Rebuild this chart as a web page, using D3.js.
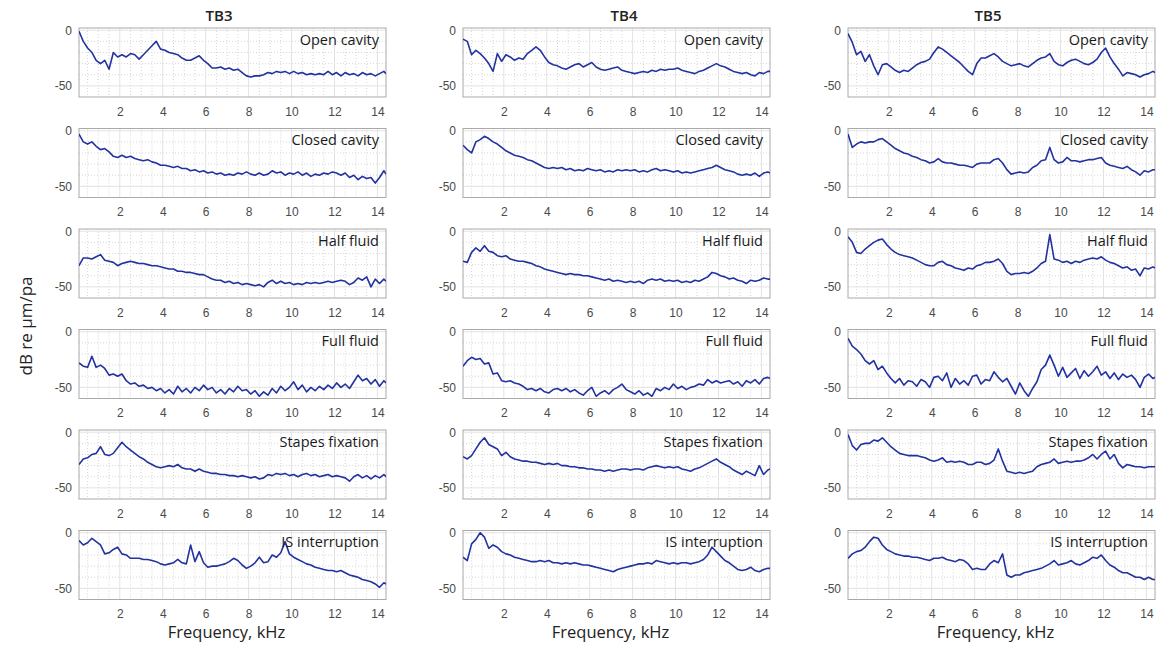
<!DOCTYPE html>
<html>
<head>
<meta charset="utf-8">
<script src="https://cdnjs.cloudflare.com/ajax/libs/d3/7.8.5/d3.min.js"></script>
<style>
  body { margin: 0; background: #fff; }
  svg { display: block; font-family: "Open Sans", "Noto Sans", sans-serif; }
  .tick text { fill: #4a4a4a; font-size: 12px; }
</style>
</head>
<body>
<svg id="chart" width="1160" height="646"></svg>
<script>
// frequency grid (kHz), shared by every panel
const freqs = [
  0.1, 0.3, 0.5, 0.7, 0.9, 1.1, 1.3, 1.5, 1.7, 1.9,
  2.1, 2.3, 2.5, 2.7, 2.9, 3.1, 3.3, 3.5, 3.7, 3.9,
  4.1, 4.3, 4.5, 4.7, 4.9, 5.1, 5.3, 5.5, 5.7, 5.9,
  6.1, 6.3, 6.5, 6.7, 6.9, 7.1, 7.3, 7.5, 7.7, 7.9,
  8.1, 8.3, 8.5, 8.7, 8.9, 9.1, 9.3, 9.5, 9.7, 9.9,
  10.1, 10.3, 10.5, 10.7, 10.9, 11.1, 11.3, 11.5, 11.7, 11.9,
  12.1, 12.3, 12.5, 12.7, 12.9, 13.1, 13.3, 13.5, 13.7, 13.9,
  14.1, 14.3, 14.4
];

const columns = ["TB3", "TB4", "TB5"];
const conditions = ["Open cavity", "Closed cavity", "Half fluid", "Full fluid", "Stapes fixation", "IS interruption"];
const xTicks = [2, 4, 6, 8, 10, 12, 14];
const yTicks = [0, -50];

// ---- TB3 ----
const tb3Open = [
  -1, -10, -16, -20, -27, -30, -27, -35, -20, -24,
  -22, -24, -21, -22, -26, -22, -18, -14, -10, -17,
  -18, -20, -21, -22, -25, -27, -27, -25, -23, -27,
  -30, -34, -34, -33, -35, -34, -36, -35, -38, -41,
  -42, -41, -41, -40, -38, -39, -37, -38, -37, -39,
  -37, -39, -38, -40, -39, -40, -39, -40, -37, -40,
  -38, -41, -38, -40, -39, -41, -38, -40, -39, -41,
  -39, -37, -39
];
const tb3Closed = [
  -3, -10, -12, -10, -14, -17, -16, -19, -23, -24,
  -22, -24, -23, -25, -26, -27, -26, -28, -29, -31,
  -31, -32, -33, -32, -34, -34, -36, -35, -37, -36,
  -38, -37, -39, -38, -40, -39, -40, -38, -39, -37,
  -39, -40, -38, -40, -39, -36, -38, -37, -40, -38,
  -39, -37, -40, -38, -41, -39, -40, -38, -39, -37,
  -38, -40, -38, -42, -40, -44, -41, -43, -42, -47,
  -42, -36, -39
];
const tb3Half = [
  -31, -24, -24, -25, -23, -21, -26, -27, -28, -31,
  -29, -28, -27, -28, -29, -29, -30, -31, -31, -32,
  -33, -34, -34, -36, -36, -37, -37, -38, -39, -39,
  -41, -43, -44, -44, -46, -45, -47, -46, -48, -47,
  -48, -49, -48, -50, -46, -44, -47, -45, -47, -46,
  -48, -47, -48, -46, -47, -46, -47, -46, -45, -46,
  -45, -44, -45, -48, -46, -42, -44, -41, -50, -43,
  -47, -43, -45
];
const tb3Full = [
  -28, -31, -32, -22, -32, -30, -33, -39, -38, -40,
  -38, -44, -47, -46, -49, -48, -51, -50, -53, -51,
  -55, -52, -56, -49, -54, -51, -55, -50, -53, -48,
  -52, -50, -55, -52, -56, -51, -54, -49, -53, -52,
  -56, -53, -58, -54, -57, -51, -55, -49, -53, -50,
  -45, -52, -48, -54, -50, -53, -49, -52, -48, -51,
  -46, -50, -47, -51, -45, -39, -44, -42, -47, -43,
  -49, -44, -46
];
const tb3Stapes = [
  -29, -24, -23, -20, -19, -13, -20, -21, -19, -14,
  -9, -13, -16, -19, -22, -24, -27, -29, -31, -32,
  -31, -30, -31, -29, -32, -33, -33, -35, -33, -35,
  -36, -37, -37, -38, -38, -39, -39, -40, -39, -40,
  -41, -40, -42, -41, -38, -39, -37, -38, -37, -39,
  -38, -40, -38, -37, -39, -38, -40, -39, -38, -40,
  -39, -40, -41, -44, -40, -38, -41, -39, -42, -39,
  -41, -38, -40
];
const tb3IS = [
  -7, -11, -9, -5, -8, -11, -19, -18, -15, -13,
  -19, -20, -23, -23, -23, -24, -24, -25, -26, -28,
  -29, -28, -27, -24, -27, -28, -11, -26, -17, -27,
  -31, -30, -30, -29, -28, -26, -23, -25, -29, -32,
  -30, -27, -22, -27, -26, -20, -22, -18, -8, -19,
  -22, -24, -26, -28, -29, -31, -32, -33, -34, -34,
  -35, -34, -36, -38, -39, -40, -42, -43, -44, -46,
  -49, -45, -46
];

// ---- TB4 ----
const tb4Open = [
  -8, -10, -22, -18, -21, -25, -30, -37, -21, -28,
  -22, -24, -27, -25, -26, -21, -18, -15, -18, -24,
  -29, -31, -32, -34, -35, -33, -31, -30, -33, -31,
  -29, -33, -35, -36, -35, -34, -33, -36, -37, -38,
  -39, -38, -37, -38, -36, -37, -35, -36, -35, -35,
  -34, -36, -37, -38, -39, -37, -36, -34, -32, -30,
  -32, -33, -35, -37, -38, -39, -38, -40, -41, -38,
  -39, -37, -37
];
const tb4Closed = [
  -13, -17, -20, -10, -8, -5, -7, -10, -12, -15,
  -18, -20, -22, -23, -24, -26, -27, -29, -31, -33,
  -34, -33, -34, -33, -35, -34, -36, -35, -36, -34,
  -35, -36, -35, -37, -36, -37, -35, -36, -35, -36,
  -35, -37, -36, -37, -35, -34, -36, -35, -36, -37,
  -36, -38, -37, -38, -37, -36, -35, -34, -33, -31,
  -33, -35, -36, -37, -39, -40, -39, -40, -38, -41,
  -38, -37, -38
];
const tb4Half = [
  -27, -28, -19, -15, -18, -13, -18, -19, -22, -23,
  -22, -25, -26, -27, -27, -28, -29, -31, -32, -34,
  -35, -36, -37, -38, -39, -38, -39, -39, -40, -40,
  -41, -42, -43, -44, -43, -45, -44, -45, -46, -45,
  -46, -45, -47, -44, -43, -44, -43, -45, -44, -45,
  -44, -46, -45, -46, -44, -45, -43, -41, -37, -38,
  -40, -41, -43, -42, -44, -45, -47, -44, -45, -44,
  -42, -43, -43
];
const tb4Full = [
  -31, -26, -23, -25, -24, -29, -28, -38, -37, -44,
  -45, -44, -46, -47, -49, -52, -51, -53, -51, -54,
  -55, -52, -51, -53, -51, -54, -52, -55, -57, -53,
  -50, -58, -55, -53, -56, -52, -50, -47, -52, -54,
  -56, -53, -57, -55, -58, -51, -53, -50, -52, -47,
  -51, -49, -52, -50, -49, -47, -48, -43, -46, -44,
  -46, -45, -44, -47, -45, -49, -44, -46, -43, -47,
  -42, -41, -42
];
const tb4Stapes = [
  -22, -24, -21, -15, -9, -5, -11, -13, -15, -21,
  -18, -22, -24, -25, -26, -26, -27, -27, -28, -29,
  -28, -29, -28, -30, -30, -31, -31, -32, -32, -33,
  -33, -34, -34, -35, -34, -35, -34, -33, -33, -34,
  -33, -33, -34, -32, -31, -30, -31, -32, -31, -32,
  -31, -33, -34, -35, -33, -32, -30, -28, -26, -24,
  -27, -29, -31, -34, -36, -38, -35, -37, -39, -30,
  -38, -34, -33
];
const tb4IS = [
  -22, -25, -10, -6, 0, -4, -14, -11, -13, -17,
  -19, -20, -22, -23, -24, -25, -26, -26, -25, -26,
  -25, -27, -27, -28, -27, -28, -27, -28, -29, -29,
  -30, -31, -32, -33, -34, -35, -33, -32, -31, -30,
  -29, -28, -28, -27, -28, -25, -26, -27, -28, -27,
  -28, -27, -27, -28, -27, -26, -24, -20, -13, -17,
  -21, -25, -27, -30, -33, -34, -33, -31, -34, -35,
  -33, -32, -32
];

// ---- TB5 ----
const tb5Open = [
  -3, -11, -22, -19, -28, -22, -32, -40, -31, -30,
  -33, -36, -38, -36, -37, -34, -31, -29, -28, -26,
  -20, -15, -17, -20, -23, -26, -29, -33, -37, -40,
  -30, -25, -25, -23, -21, -24, -28, -30, -32, -31,
  -30, -32, -33, -30, -27, -25, -24, -21, -28, -31,
  -32, -29, -27, -26, -28, -30, -31, -29, -26, -20,
  -16, -24, -30, -35, -41, -38, -39, -40, -42, -40,
  -39, -37, -38
];
const tb5Closed = [
  -3, -15, -12, -10, -11, -10, -10, -8, -7, -10,
  -13, -16, -18, -20, -21, -23, -24, -26, -27, -29,
  -28, -25, -28, -29, -29, -30, -31, -31, -32, -33,
  -30, -29, -29, -29, -26, -25, -29, -35, -39, -38,
  -37, -38, -37, -33, -31, -27, -26, -15, -26, -29,
  -28, -24, -27, -27, -28, -27, -26, -26, -25, -24,
  -29, -31, -32, -33, -34, -32, -35, -37, -40, -36,
  -37, -35, -35
];
const tb5Half = [
  -5, -10, -19, -20, -16, -13, -10, -8, -7, -12,
  -16, -19, -21, -22, -23, -24, -26, -28, -30, -31,
  -31, -28, -27, -30, -31, -33, -34, -35, -33, -34,
  -31, -30, -28, -28, -27, -25, -29, -36, -39, -38,
  -38, -37, -38, -36, -33, -29, -27, -3, -25, -26,
  -28, -27, -29, -27, -28, -26, -25, -24, -25, -23,
  -26, -28, -29, -31, -33, -32, -35, -34, -40, -33,
  -34, -32, -33
];
const tb5Full = [
  -6, -13, -16, -20, -26, -29, -26, -34, -31, -37,
  -42, -46, -42, -48, -44, -45, -49, -43, -45, -50,
  -41, -40, -44, -37, -50, -42, -47, -44, -48, -40,
  -39, -47, -43, -44, -36, -41, -45, -42, -49, -56,
  -46, -53, -58, -51, -45, -34, -30, -21, -30, -40,
  -32, -41, -37, -33, -42, -35, -40, -36, -31, -39,
  -36, -42, -37, -43, -38, -41, -39, -43, -50, -41,
  -38, -42, -41
];
const tb5Stapes = [
  -2, -12, -16, -11, -10, -10, -7, -8, -5, -9,
  -13, -16, -19, -20, -21, -21, -21, -22, -23, -25,
  -26, -25, -23, -27, -26, -27, -26, -27, -29, -29,
  -27, -27, -29, -28, -25, -15, -26, -35, -36, -37,
  -36, -37, -36, -35, -31, -29, -28, -27, -24, -28,
  -27, -26, -27, -26, -26, -25, -23, -20, -24, -20,
  -17, -24, -20, -28, -32, -29, -30, -31, -31, -32,
  -31, -31, -31
];
const tb5IS = [
  -23, -19, -17, -16, -13, -8, -4, -5, -11, -15,
  -17, -19, -20, -21, -21, -22, -22, -23, -24, -25,
  -23, -23, -22, -24, -25, -26, -24, -25, -28, -33,
  -32, -33, -33, -28, -25, -27, -19, -38, -40, -38,
  -38, -36, -35, -34, -33, -32, -30, -28, -25, -29,
  -28, -27, -25, -28, -29, -27, -25, -22, -23, -20,
  -25, -29, -31, -34, -36, -36, -38, -40, -40, -42,
  -40, -42, -42
];

const seriesByColumn = [
  [tb3Open, tb3Closed, tb3Half, tb3Full, tb3Stapes, tb3IS],
  [tb4Open, tb4Closed, tb4Half, tb4Full, tb4Stapes, tb4IS],
  [tb5Open, tb5Closed, tb5Half, tb5Full, tb5Stapes, tb5IS]
];

// layout
const svg = d3.select("#chart");
const plotW = 307, plotH = 69;
const colLeft = [79, 463, 848];
const titleX = [219, 624, 988];
const rowTop = r => 28 + r * 100.5;

const x = d3.scaleLinear().domain([0.1, 14.4]).range([0, plotW]);
const y = d3.scaleLinear().domain([-60, 2]).range([plotH, 0]);

const xMinor = d3.range(0.5, 14.4, 0.5).filter(v => v % 2 !== 0);
const yMinor = [-10, -20, -30, -40];

const line = d3.line()
  .x((d, i) => x(freqs[i]))
  .y(d => y(d));

svg.append("defs").append("clipPath").attr("id", "plot-clip")
  .append("rect").attr("width", plotW).attr("height", plotH);

columns.forEach((col, ci) => {
  // column title
  svg.append("text")
    .attr("x", titleX[ci])
    .attr("y", 20.5)
    .attr("text-anchor", "middle")
    .attr("font-size", 15)
    .attr("font-weight", 600)
    .attr("fill", "#222")
    .text(col);

  conditions.forEach((cond, ri) => {
    const g = svg.append("g")
      .attr("transform", `translate(${colLeft[ci]},${rowTop(ri)})`);

    // minor grid (dotted)
    g.append("g").selectAll("line").data(xMinor).join("line")
      .attr("x1", d => x(d)).attr("x2", d => x(d))
      .attr("y1", 0).attr("y2", plotH)
      .attr("stroke", "#d6d6d6").attr("stroke-dasharray", "1,2");
    g.append("g").selectAll("line").data(yMinor).join("line")
      .attr("x1", 0).attr("x2", plotW)
      .attr("y1", d => y(d)).attr("y2", d => y(d))
      .attr("stroke", "#d6d6d6").attr("stroke-dasharray", "1,2");

    // major grid
    g.append("g").selectAll("line").data(xTicks).join("line")
      .attr("x1", d => x(d)).attr("x2", d => x(d))
      .attr("y1", 0).attr("y2", plotH)
      .attr("stroke", "#e3e3e3");
    g.append("g").selectAll("line").data(yTicks).join("line")
      .attr("x1", 0).attr("x2", plotW)
      .attr("y1", d => y(d)).attr("y2", d => y(d))
      .attr("stroke", "#e3e3e3");

    // axes (labels only)
    g.append("g")
      .attr("transform", `translate(0,${plotH})`)
      .call(d3.axisBottom(x).tickValues(xTicks).tickSize(0).tickPadding(10))
      .call(a => a.select(".domain").remove());
    g.append("g")
      .call(d3.axisLeft(y).tickValues(yTicks).tickSize(0).tickPadding(7).tickFormat(d => String(d)))
      .call(a => a.select(".domain").remove());

    // box
    g.append("rect")
      .attr("width", plotW).attr("height", plotH)
      .attr("fill", "none").attr("stroke", "#a9a9a9");

    // curve
    g.append("path")
      .datum(seriesByColumn[ci][ri])
      .attr("clip-path", "url(#plot-clip)")
      .attr("fill", "none")
      .attr("stroke", "#22329f")
      .attr("stroke-width", 1.6)
      .attr("stroke-linejoin", "round")
      .attr("d", line);

    // condition label
    g.append("text")
      .attr("x", plotW - 7)
      .attr("y", 16.5)
      .attr("text-anchor", "end")
      .attr("font-size", 14.5)
      .attr("fill", "#1a1a1a")
      .text(cond);
  });

  // x axis title
  svg.append("text")
    .attr("x", colLeft[ci] + plotW / 2 - 6)
    .attr("y", 638)
    .attr("text-anchor", "middle")
    .attr("font-size", 16.5)
    .attr("fill", "#222")
    .text("Frequency, kHz");
});

// y axis title
svg.append("text")
  .attr("transform", "translate(32,326) rotate(-90)")
  .attr("text-anchor", "middle")
  .attr("font-size", 17)
  .attr("fill", "#222")
  .text("dB re µm/pa");
</script>
</body>
</html>
